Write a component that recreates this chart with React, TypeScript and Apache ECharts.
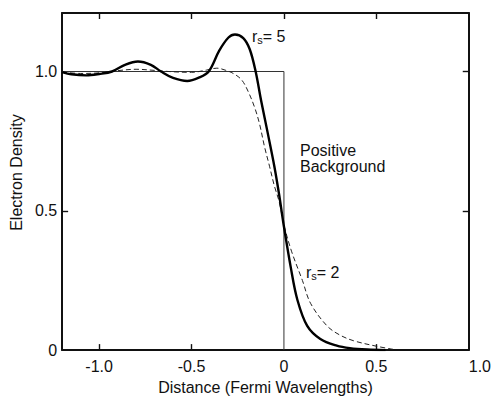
import React, { useEffect, useRef } from "react";
import * as echarts from "echarts";

const xTickValues = [-1.0, -0.5, 0, 0.5, 1.0];
const xTickLabels = ["-1.0", "-0.5", "0", "0.5", "1.0"];
const yTickValues = [0, 0.5, 1.0];
const yTickLabels = ["0", "0.5", "1.0"];

const backgroundX = [-1.2, 0, 0];
const backgroundY = [1.0, 1.0, 0];

const rs5X = [-1.2, -1.15, -1.07, -1.0, -0.93, -0.86, -0.79, -0.72, -0.665, -0.6, -0.523, -0.46, -0.407, -0.35, -0.3, -0.265, -0.22, -0.185, -0.153, -0.123, -0.087, -0.052, -0.025, -0.004, 0.037, 0.073, 0.126, 0.197, 0.286, 0.357, 0.45, 0.55];
const rs5Y = [0.998, 0.99, 0.986, 0.991, 1.0, 1.024, 1.036, 1.024, 1.0, 0.977, 0.966, 0.978, 1.0, 1.075, 1.122, 1.133, 1.12, 1.08, 1.0, 0.894, 0.777, 0.66, 0.554, 0.46, 0.297, 0.18, 0.087, 0.04, 0.016, 0.007, 0.002, 0.0];

const rs2X = [-1.2, -1.1, -1.0, -0.9, -0.8, -0.7, -0.6, -0.5, -0.42, -0.363, -0.318, -0.274, -0.229, -0.194, -0.158, -0.132, -0.105, -0.078, -0.052, -0.025, 0, 0.041, 0.1, 0.144, 0.233, 0.3, 0.375, 0.5, 0.59];
const rs2Y = [0.998, 0.993, 0.995, 1.003, 1.008, 1.004, 0.999, 0.997, 1.005, 1.012, 1.005, 0.993, 0.97, 0.929, 0.87, 0.812, 0.73, 0.66, 0.59, 0.531, 0.449, 0.355, 0.25, 0.168, 0.087, 0.055, 0.034, 0.014, 0.003];

const FONT = "'Liberation Sans', Arial, Helvetica, sans-serif";
const INK = "#111";

const zip = (xs: number[], ys: number[]) => xs.map((x, i) => [x, ys[i]]);

export default function App() {
  const ref = useRef<HTMLDivElement>(null);
  useEffect(() => {
    if (!ref.current) return;
    const chart = echarts.init(ref.current, null, { renderer: "svg" });
    const axisLine = { show: true, onZero: false, lineStyle: { color: INK, width: 2 } };
    const tickStyle = { color: INK, width: 1.4 };
    const xFmt = (v: number) => {
      const i = xTickValues.findIndex((t) => Math.abs(t - v) < 1e-9);
      return i >= 0 ? xTickLabels[i] : "";
    };
    const yFmt = (v: number) => {
      const i = yTickValues.findIndex((t) => Math.abs(t - v) < 1e-9);
      return i >= 0 ? yTickLabels[i] : "";
    };
    const rich = {
      r: { fontSize: 16, fontFamily: FONT, fill: INK, lineHeight: 18 },
      s: { fontSize: 11, fontFamily: FONT, fill: INK, padding: [6, 0, 0, 0], lineHeight: 18 },
      t: { fontSize: 16, fontFamily: FONT, fill: INK, lineHeight: 18 },
    };
    chart.setOption({
      animation: false,
      backgroundColor: "#fff",
      textStyle: { fontFamily: FONT },
      grid: { left: 58, right: 24, top: 13, bottom: 43, containLabel: false },
      xAxis: [
        {
          type: "value",
          min: -1.2,
          max: 1.0,
          position: "bottom",
          name: "Distance (Fermi Wavelengths)",
          nameLocation: "middle",
          nameGap: 27,
          nameTextStyle: { fontSize: 16, color: INK, fontFamily: FONT },
          axisLine,
          axisTick: { show: true, inside: true, length: 6, lineStyle: tickStyle, customValues: [-1.0, -0.5, 0.5] },
          axisLabel: {
            show: true,
            customValues: xTickValues,
            formatter: xFmt,
            fontSize: 16,
            color: INK,
            fontFamily: FONT,
            margin: 8,
            alignMaxLabel: "left",
            showMaxLabel: true,
          },
          splitLine: { show: false },
        },
        {
          type: "value",
          min: -1.2,
          max: 1.0,
          position: "top",
          axisLine,
          axisTick: { show: true, inside: true, length: 6, lineStyle: tickStyle, customValues: [-1.0, -0.5, 0, 0.5] },
          axisLabel: { show: false },
          splitLine: { show: false },
        },
      ],
      yAxis: [
        {
          type: "value",
          min: 0,
          max: 1.21,
          position: "left",
          name: "Electron Density",
          nameLocation: "middle",
          nameRotate: 90,
          nameGap: 35,
          nameTextStyle: { fontSize: 16, color: INK, fontFamily: FONT, padding: [0, 0, 0, 18] },
          axisLine,
          axisTick: { show: true, inside: true, length: 6, lineStyle: tickStyle, customValues: [0.5] },
          axisLabel: {
            show: true,
            customValues: yTickValues,
            formatter: yFmt,
            fontSize: 16,
            color: INK,
            fontFamily: FONT,
            margin: 5,
          },
          splitLine: { show: false },
        },
        {
          type: "value",
          min: 0,
          max: 1.21,
          position: "right",
          axisLine,
          axisTick: { show: true, inside: true, length: 6, lineStyle: tickStyle, customValues: [0.5, 1.0] },
          axisLabel: { show: false },
          splitLine: { show: false },
        },
      ],
      series: [
        {
          name: "Positive Background",
          type: "line",
          data: zip(backgroundX, backgroundY),
          showSymbol: false,
          lineStyle: { color: "#333", width: 1 },
          z: 2,
        },
        {
          name: "rs=2",
          type: "line",
          data: zip(rs2X, rs2Y),
          smooth: 0.35,
          showSymbol: false,
          lineStyle: { color: "#222", width: 1, type: [5, 3] },
          z: 3,
        },
        {
          name: "rs=5",
          type: "line",
          data: zip(rs5X, rs5Y),
          smooth: 0.35,
          showSymbol: false,
          lineStyle: { color: "#000", width: 2.4 },
          z: 4,
        },
      ],
      graphic: [
        {
          type: "text",
          left: 300,
          top: 142,
          style: {
            text: "Positive\nBackground",
            fontSize: 16,
            lineHeight: 16,
            fill: INK,
            fontFamily: FONT,
          },
        },
        {
          type: "text",
          left: 252,
          top: 28,
          style: { text: "{r|r}{s|s}{t|= 5}", fill: INK, fontFamily: FONT, rich },
        },
        {
          type: "text",
          left: 306,
          top: 264,
          style: { text: "{r|r}{s|s}{t|= 2}", fill: INK, fontFamily: FONT, rich },
        },
      ],
    });
    return () => chart.dispose();
  }, []);
  return <div ref={ref} style={{ width: 494, height: 400, position: "absolute", left: 0, top: 0 }} />;
}
